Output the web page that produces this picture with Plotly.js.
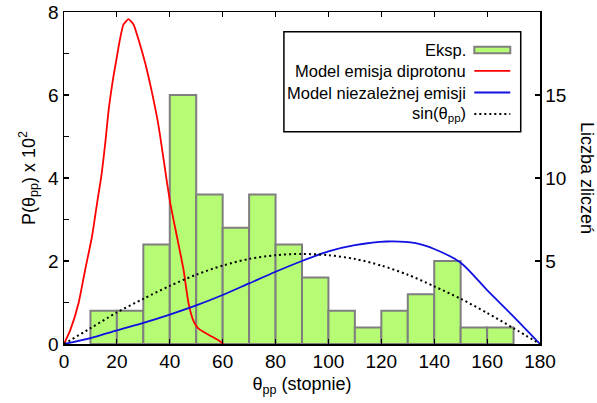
<!DOCTYPE html>
<html>
<head>
<meta charset="utf-8">
<script src="https://cdn.plot.ly/plotly-3.0.1.min.js"></script>
<style>html,body{margin:0;padding:0;background:#fff;}#chart{width:597px;height:403px;}</style>
</head>
<body>
<div id="chart"></div>
<script>
// Histogram (experiment): bin centres (deg) and counts
const binCenters = [15, 25, 35, 45, 55, 65, 75, 85, 95, 105, 115, 125, 135, 145, 155, 165];
const binCounts  = [2, 2, 6, 15, 9, 7, 9, 6, 4, 2, 1, 2, 3, 5, 1, 1];

// Model emisja diprotonu (P x 10^2)
const diprotonX = [0, 2.4, 5.5, 8.0, 10.6, 12.5, 14.2, 15.6, 16.9, 18.7, 20.0, 21.0, 22.5, 24.4, 26.3, 28.2, 30.7, 33.3, 35.8, 38.7, 40.2, 42.7, 45.2, 47.1, 49.0, 50.2, 51.5, 55.3, 58.4, 60.3];
const diprotonY = [0, 0.34, 0.98, 1.79, 2.59, 3.39, 4.08, 4.84, 5.65, 6.45, 6.92, 7.29, 7.70, 7.83, 7.70, 7.33, 6.77, 6.05, 5.24, 4.00, 3.39, 2.59, 1.79, 0.98, 0.55, 0.42, 0.34, 0.20, 0.09, 0];

// Model niezależnej emisji (P x 10^2)
const indepX = [0, 10, 20, 30, 40, 50, 60, 70, 80, 90, 100, 110, 122, 133, 140, 150, 160, 170, 180];
const indepY = [0, 0.14, 0.33, 0.51, 0.71, 0.93, 1.18, 1.46, 1.74, 2.00, 2.23, 2.38, 2.47, 2.43, 2.29, 1.96, 1.30, 0.66, 0];

// sin(theta_pp) reference (scaled, P x 10^2)
const sinX = [0, 10, 20, 30, 40, 50, 60, 70, 80, 90, 100, 110, 120, 130, 140, 150, 160, 170, 180];
const sinY = [0, 0.38, 0.76, 1.09, 1.40, 1.67, 1.89, 2.05, 2.14, 2.17, 2.14, 2.05, 1.89, 1.67, 1.39, 1.09, 0.75, 0.38, 0];

// Tick labels
const xTicks = [0, 20, 40, 60, 80, 100, 120, 140, 160, 180];
const leftTicks = [0, 2, 4, 6, 8];
const rightTicks = [5, 10, 15];

const legendNames = ['Eksp.', 'Model emisja diprotonu', 'Model niezależnej emisji', 'sin(θ<sub>pp</sub>)'];

const FONT = 'Liberation Sans, Arial, Helvetica, sans-serif';
const green = '#b5fb74';
const barEdge = '#7f7f7f';

const traces = [
  {type: 'bar', x: binCenters, y: binCounts, width: 10, xaxis: 'x', yaxis: 'y',
   marker: {color: green, line: {color: barEdge, width: 2}}, hoverinfo: 'skip'},
  {type: 'scatter', mode: 'lines', x: diprotonX, y: diprotonY, xaxis: 'x', yaxis: 'y2',
   line: {color: '#ff0000', width: 1.8, shape: 'spline', smoothing: 0.5}},
  {type: 'scatter', mode: 'lines', x: indepX, y: indepY, xaxis: 'x', yaxis: 'y2',
   line: {color: '#1010e0', width: 1.8, shape: 'spline', smoothing: 0.8}},
  {type: 'scatter', mode: 'lines', x: sinX, y: sinY, xaxis: 'x', yaxis: 'y2',
   line: {color: '#000000', width: 2, dash: '2px,3px', shape: 'spline', smoothing: 0.8}}
];

// legend geometry (paper coords)
const lgX0 = 0.462, lgX1 = 0.9595, lgY0 = 0.6395, lgY1 = 0.9407;
const rowY = [0.8855, 0.8225, 0.7575, 0.6925];
const textRight = 0.8494, symX0 = 0.862, symX1 = 0.9376;

const annotations = legendNames.map((t, i) => ({
  xref: 'paper', yref: 'paper', x: textRight, y: rowY[i], xanchor: 'right', yanchor: 'middle',
  text: t, showarrow: false, font: {family: FONT, size: 16.5, color: '#000'}
}));
annotations.push({
  xref: 'paper', yref: 'paper', x: 1.099, y: 0.5, xanchor: 'center', yanchor: 'middle',
  text: 'Liczba zliczeń', textangle: 90, showarrow: false, font: {family: FONT, size: 18, color: '#000'}
});

const shapes = [
  {type: 'rect', xref: 'paper', yref: 'paper', x0: lgX0, x1: lgX1, y0: lgY0, y1: lgY1,
   line: {color: '#000', width: 1.5}, fillcolor: 'rgba(255,255,255,1)', layer: 'above'},
  {type: 'rect', xref: 'paper', yref: 'paper', x0: symX0, x1: symX1, y0: rowY[0] - 0.0095, y1: rowY[0] + 0.0095,
   line: {color: barEdge, width: 2}, fillcolor: green, layer: 'above'},
  {type: 'line', xref: 'paper', yref: 'paper', x0: symX0, x1: symX1, y0: rowY[1], y1: rowY[1],
   line: {color: '#ff0000', width: 1.8}, layer: 'above'},
  {type: 'line', xref: 'paper', yref: 'paper', x0: symX0, x1: symX1, y0: rowY[2], y1: rowY[2],
   line: {color: '#1010e0', width: 1.8}, layer: 'above'},
  {type: 'line', xref: 'paper', yref: 'paper', x0: symX0, x1: symX1, y0: rowY[3], y1: rowY[3],
   line: {color: '#000', width: 2, dash: '2px,3px'}, layer: 'above'}
];

const layout = {
  width: 597, height: 403,
  margin: {l: 64, r: 57, t: 12, b: 59},
  paper_bgcolor: '#fff', plot_bgcolor: '#fff',
  showlegend: false,
  font: {family: FONT, color: '#000'},
  bargap: 0,
  xaxis: {
    range: [0, 180], tickvals: xTicks, ticks: 'inside', ticklen: 5, tickwidth: 1.2, tickcolor: '#000',
    showline: true, linecolor: '#000', linewidth: 1.5, mirror: 'ticks',
    showgrid: false, zeroline: false,
    tickfont: {family: FONT, size: 19, color: '#000'},
    title: {text: 'θ<sub>pp</sub> (stopnie)', font: {family: FONT, size: 18, color: '#000'}, standoff: 6}
  },
  yaxis: {
    range: [0, 20], side: 'right', tickvals: rightTicks, ticks: 'inside', ticklen: 5, tickwidth: 1.2, tickcolor: '#000',
    showline: true, linecolor: '#000', linewidth: 1.5, showgrid: false, zeroline: false,
    tickfont: {family: FONT, size: 19, color: '#000'}
  },
  yaxis2: {
    range: [0, 8], overlaying: 'y', side: 'left', tickvals: leftTicks, ticks: 'inside', ticklen: 5, tickwidth: 1.2, tickcolor: '#000',
    minor: {dtick: 1, ticks: 'inside', ticklen: 5, tickwidth: 1.2, tickcolor: '#000'},
    showline: true, linecolor: '#000', linewidth: 1.5, showgrid: false, zeroline: false,
    tickfont: {family: FONT, size: 19, color: '#000'},
    title: {text: 'P(θ<sub>pp</sub>) x 10<sup>2</sup>', font: {family: FONT, size: 18, color: '#000'}, standoff: 8}
  },
  annotations: annotations,
  shapes: shapes
};

Plotly.newPlot('chart', traces, layout, {displayModeBar: false, staticPlot: true});
</script>
</body>
</html>
